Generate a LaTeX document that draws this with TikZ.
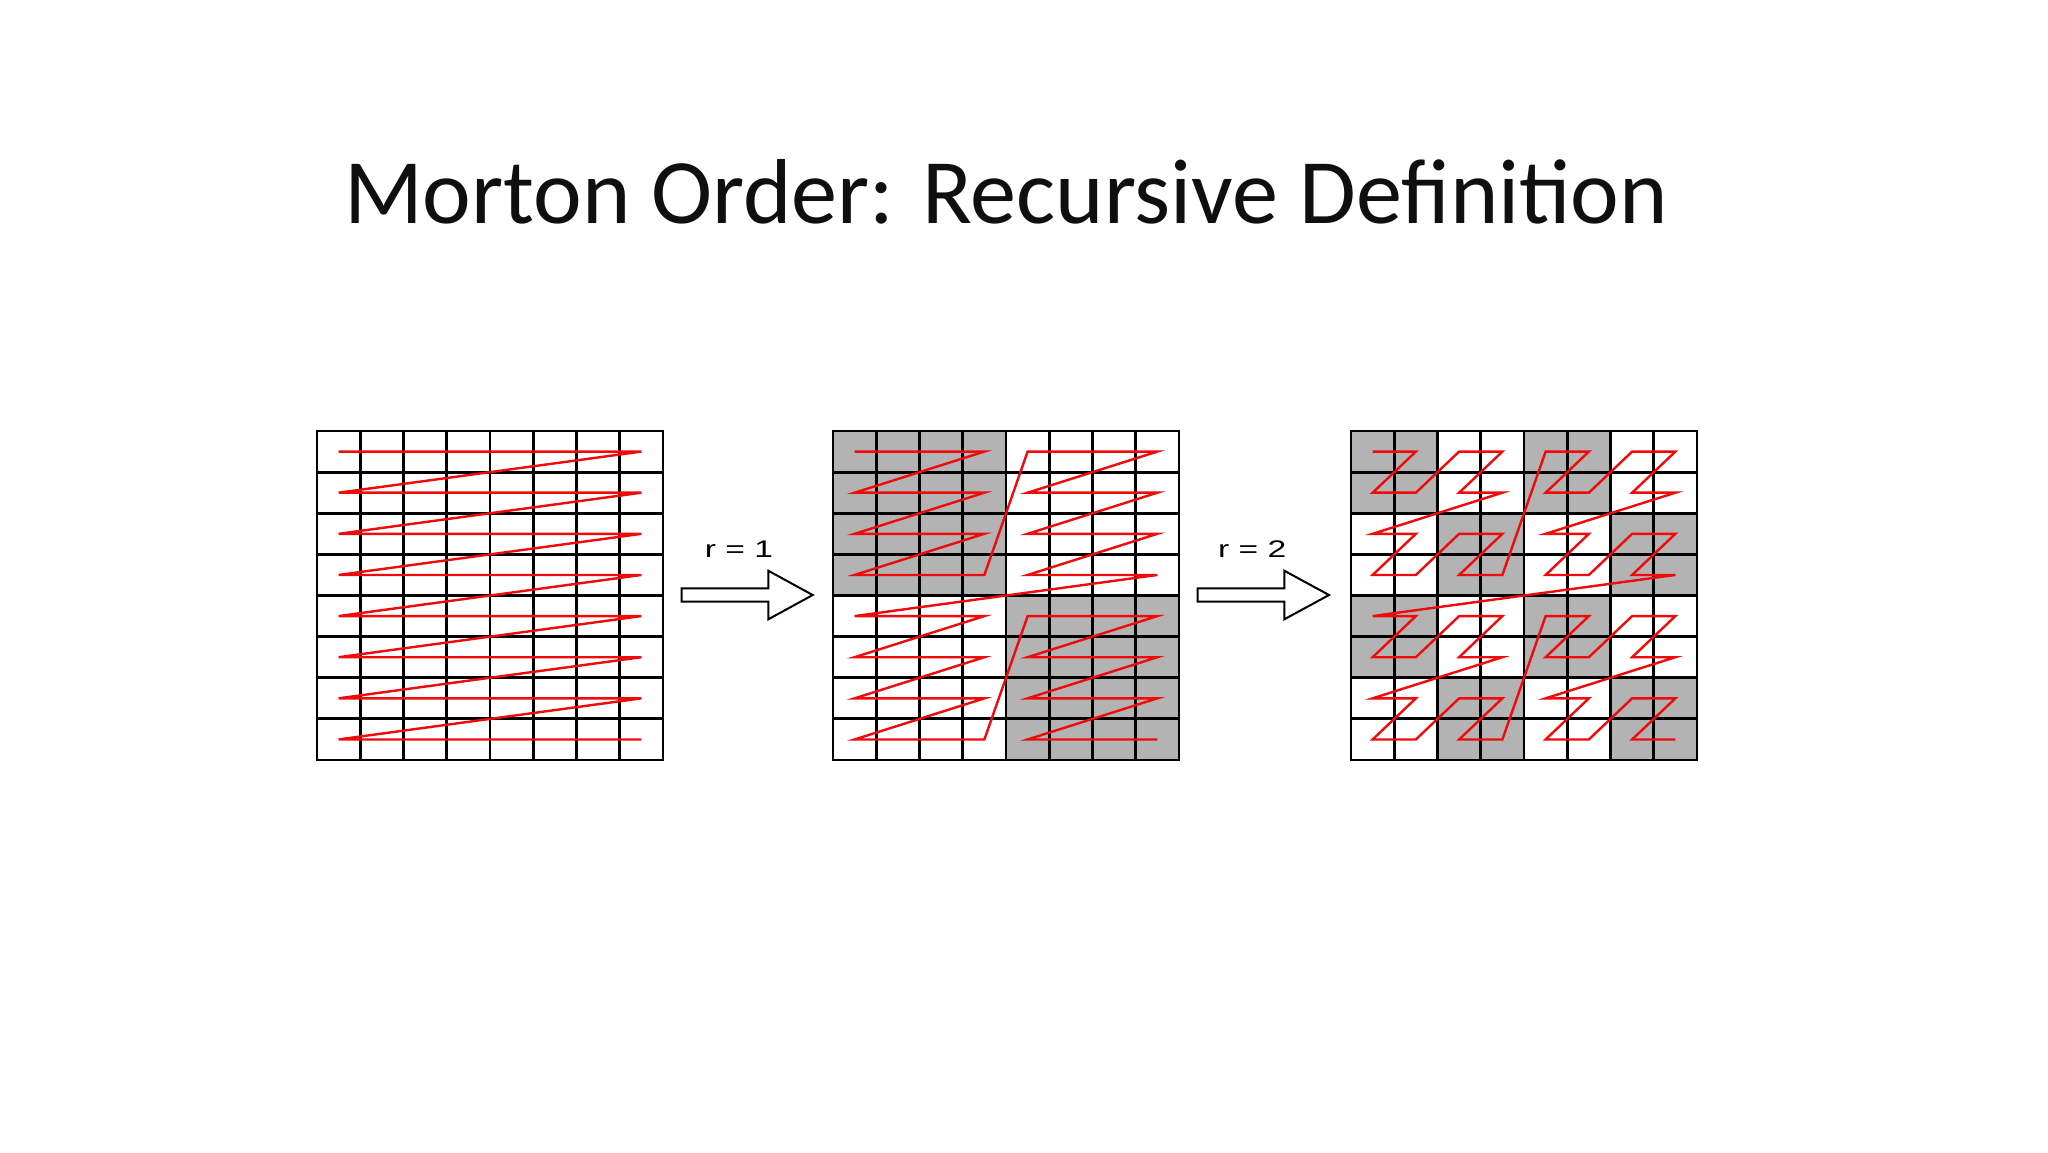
\documentclass[tikz,border=0pt]{standalone}
\usepackage{graphicx}
\usepackage{fontspec}
\setmainfont{Carlito}
\newfontfamily\lbsans{Liberation Sans}
\definecolor{cellgray}{RGB}{179,179,179}
\definecolor{pathred}{RGB}{240,10,10}
\definecolor{titlec}{RGB}{15,15,15}
\tikzset{
  gridline/.style={black, line width=1.45pt},
  zpath/.style={pathred, line width=1.2pt, line join=miter},
  bigarrow/.style={draw=black, fill=white, line width=1pt, line join=miter},
  rlabel/.style={anchor=base west, inner sep=0pt, font=\lbsans\fontsize{12pt}{14pt}\selectfont},
}
\newcommand{\cw}{43.25}
\newcommand{\ch}{41.125}
\newcommand{\drawgridlines}{%
  \foreach \i in {1,...,7} {
    \draw[gridline] ({\i*\cw},0) -- ({\i*\cw},329);
    \draw[gridline] (0,{\i*\ch}) -- (346,{\i*\ch});
  }
  \draw[gridline] (0,0) rectangle (346,329);
}
\begin{document}
\begin{tikzpicture}[x=0.5pt,y=-0.5pt]
\useasboundingbox (0,0) rectangle (2048,1152);
\fill[white] (0,0) rectangle (2048,1152);

% title
\node[anchor=base, inner sep=0pt, text=titlec, font=\fontsize{46.1pt}{50pt}\selectfont] (title) at (1006,223) {Morton Order: Recursive Definition};

% grid 1: row-major
\begin{scope}[shift={(317,431)}]
  \drawgridlines
  \draw[zpath] ({0.5*\cw},{0.5*\ch})
    \foreach \n in {1,...,63} {
      -- ({(mod(\n,8)+0.5)*\cw},{(int(\n/8)+0.5)*\ch})
    };
\end{scope}

% grid 2: r = 1
\begin{scope}[shift={(833,431)}]
  \fill[cellgray] (0,0) rectangle ({4*\cw},{4*\ch});
  \fill[cellgray] ({4*\cw},{4*\ch}) rectangle (346,329);
  \drawgridlines
  \draw[zpath] ({0.5*\cw},{0.5*\ch})
    \foreach \n in {1,...,63} {
      -- ({(mod(mod(\n,16),4)+4*mod(int(\n/16),2)+0.5)*\cw},
          {(int(mod(\n,16)/4)+4*int(\n/32)+0.5)*\ch})
    };
\end{scope}

% grid 3: r = 2
\begin{scope}[shift={(1351,431)}]
  \foreach \bx/\by in {0/0,2/2,0/4,2/6,4/0,6/2,4/4,6/6} {
    \fill[cellgray] ({\bx*\cw},{\by*\ch}) rectangle ({(\bx+2)*\cw},{(\by+2)*\ch});
  }
  \drawgridlines
  \draw[zpath] ({0.5*\cw},{0.5*\ch})
    \foreach \n in {1,...,63} {
      -- ({(mod(\n,2)+2*mod(int(\n/4),2)+4*mod(int(\n/16),2)+0.5)*\cw},
          {(mod(int(\n/2),2)+2*mod(int(\n/8),2)+4*int(\n/32)+0.5)*\ch})
    };
\end{scope}

% arrows
\draw[bigarrow] (681.7,588.3) -- (768.3,588.3) -- (768.3,570.7) -- (812.7,595)
  -- (768.3,619.3) -- (768.3,601.7) -- (681.7,601.7) -- cycle;
\node[rlabel] (r1) at (704.4,557.3) {\scalebox{1.4}[1]{r = 1}};

\draw[bigarrow] (1197.7,588.3) -- (1284.3,588.3) -- (1284.3,570.7) -- (1329,595)
  -- (1284.3,619.3) -- (1284.3,601.7) -- (1197.7,601.7) -- cycle;
\node[rlabel] (r2) at (1217.7,557.3) {\scalebox{1.4}[1]{r = 2}};
\end{tikzpicture}
\end{document}
